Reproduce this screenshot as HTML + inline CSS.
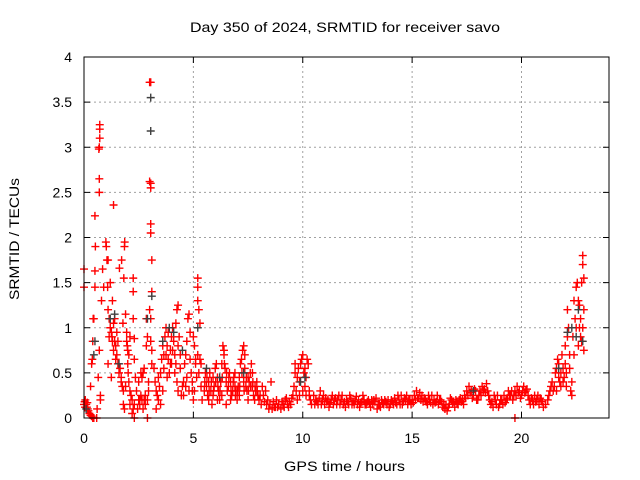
<!DOCTYPE html>
<html><head><meta charset="utf-8"><style>
body{margin:0;background:#fff;}
svg{display:block;font-family:"Liberation Sans",sans-serif;}
</style></head><body>
<svg id="chart" width="640" height="480" viewBox="0 0 640 480" xmlns="http://www.w3.org/2000/svg">
<rect width="640" height="480" fill="#fff"/>
<text x="190" y="32" font-size="14" textLength="310" lengthAdjust="spacingAndGlyphs" fill="#000">Day 350 of 2024, SRMTID for receiver savo</text>
<text x="284" y="471" font-size="14" textLength="121" lengthAdjust="spacingAndGlyphs" fill="#000">GPS time / hours</text>
<text transform="translate(19,300) rotate(-90)" font-size="14" textLength="122" lengthAdjust="spacingAndGlyphs" fill="#000">SRMTID / TECUs</text>
<g id="grid"></g>
<g id="ticks"></g>
<g id="red"></g>
<g id="gray"></g>
<rect x="84" y="57" width="525" height="361" fill="none" stroke="#000" stroke-width="1"/>
</svg>
<script>
const xTicks=[0,5,10,15,20];
const yTicks=[0,0.5,1,1.5,2,2.5,3,3.5,4];
const yTickLabels=["0","0.5","1","1.5","2","2.5","3","3.5","4"];
const redPoints=[
[0,0.15],[0.03,0.18],[0.06,0.2],[0.1,0.15],[0.13,0.12],[0.17,0.1],[0.2,0.08],[0.25,0.05],[0.3,0.03],[0.35,0.02],[0.4,0],[0.45,0],[0,1.65],[0,1.45],[0.05,0.12],[0.15,0.17],
[0.3,0.35],[0.35,0.6],[0.38,0.65],[0.4,0.85],[0.42,1.1],[0.45,1.1],[0.5,1.45],[0.5,1.63],[0.52,1.9],[0.5,2.24],[0.7,2.5],[0.7,2.65],[0.68,2.98],[0.7,3.0],[0.72,3.2],[0.72,3.25],[0.72,3.1],[0.75,0.2],[0.75,0.25],[0.65,0.45],[0.7,0.75],[0.58,0],[0.6,0.1],[0.8,1.3],[0.85,1.65],[0.9,1.45],
[1.0,1.95],[1.02,1.9],[1.05,1.75],[1.1,1.75],[1.08,1.45],[1.1,1.2],[1.15,1.1],[1.2,1.0],[1.25,0.95],[1.28,0.9],[1.3,0.85],[1.35,2.36],[1.35,1.05],[1.4,1.1],[1.45,0.8],[1.5,0.7],[1.55,0.6],[1.6,0.5],[1.65,0.55],[1.7,0.45],[1.75,0.35],[1.8,0.15],[1.85,0.1],[1.4,0.85],[1.2,1.5],[1.3,1.3],[1.1,0.6],[1.25,0.45],[1.15,0.9],[1.35,0.75],[1.5,0.95],[1.55,0.85],[1.45,0.65],
[1.62,1.66],[1.72,1.75],[1.85,1.9],[1.86,1.95],[1.82,1.55],[1.9,1.15],[1.78,1.05],[1.95,0.95],[2.0,0.6],[2.02,0.5],[2.05,0.4],[2.1,0.3],[2.15,0.25],[2.25,0.1],[2.3,0],[2.0,0.75],[2.05,0.7],[1.98,0.8],[2.1,0.9],[2.2,0.2],[2.3,0.15],[2.4,0.3],[2.35,0.45],[2.3,0.65],[2.25,1.1],[2.25,1.55],[2.25,1.4],[1.95,0.85],[2.3,0.88],[1.7,0.4],[1.8,0.3],[1.9,0.35],[2.1,0.15],[2.2,0.05],
[2.5,0.2],[2.55,0.15],[2.6,0.25],[2.65,0.2],[2.7,0.1],[2.75,0.2],[2.8,0.25],[2.7,0.5],[2.75,0.55],[2.65,0.45],[2.85,0.8],[2.85,1.1],[2.9,0.9],[2.95,0.3],[2.9,0],[2.5,0.4],[2.6,0.5],[2.45,0.1],[2.55,0.2],[2.8,0.15],[2.9,0.2],[2.95,0.4],
[3.0,3.72],[3.05,3.72],[3.0,2.62],[3.05,2.6],[3.05,2.55],[3.05,2.15],[3.05,2.05],[3.1,1.75],[3.1,1.4],[3.0,1.2],[3.05,0.85],[3.1,0.75],[3.1,0.6],[3.05,1.1],
[3.2,0.55],[3.25,0.4],[3.3,0.3],[3.35,0.25],[3.4,0.2],[3.45,0.35],[3.5,0.5],[3.55,0.65],[3.6,0.8],[3.65,0.7],[3.7,0.9],[3.75,1.0],[3.8,0.8],[3.85,0.65],[3.9,0.5],[3.95,0.75],[4.0,0.9],[4.05,1.0],[4.1,0.85],[4.15,0.7],[4.2,0.6],[4.25,0.4],[4.3,0.3],[4.2,1.05],[4.25,1.2],[4.3,1.25],[4.35,0.9],[4.4,0.55],[4.45,0.25],[3.4,0.45],[3.6,0.3],[3.8,0.45],[4.0,0.6],[3.3,0.1],[3.5,0.15],[3.65,0.55],[3.75,0.7],[3.85,0.95],[3.95,0.6],[4.05,0.75],[4.15,0.5],[4.3,0.8],[4.4,0.7],
[4.5,0.35],[4.55,0.4],[4.6,0.6],[4.65,0.7],[4.7,0.85],[4.75,1.1],[4.8,1.15],[4.85,0.95],[4.9,0.5],[4.95,0.3],[5.0,0.2],[5.05,0.8],[5.2,1.55],[5.2,1.45],[5.2,1.3],[5.25,1.2],[5.3,1.05],[5.1,0.6],[5.15,0.45],[5.25,0.5],[5.3,0.65],[5.35,0.35],[5.4,0.2],[4.7,0.45],[4.8,0.3],[5.0,0.9],[5.1,0.65],[5.2,0.7],[4.55,0.25],[4.65,0.35],[4.85,0.65],[4.95,0.4],[5.05,0.3],[5.35,0.6],
[5.5,0.3],[5.55,0.5],[5.6,0.35],[5.65,0.25],[5.7,0.4],[5.75,0.5],[5.8,0.3],[5.85,0.15],[5.9,0.45],[5.95,0.35],[6.0,0.55],[6.05,0.6],[6.1,0.45],[6.15,0.3],[6.2,0.2],[6.25,0.4],[6.3,0.6],[6.35,0.8],[6.4,0.75],[6.45,0.55],[6.5,0.4],[6.55,0.3],[6.6,0.35],[6.65,0.5],[6.7,0.4],[6.75,0.25],[6.8,0.3],[6.85,0.45],[6.9,0.35],[6.95,0.3],[7.0,0.2],[7.05,0.35],[7.1,0.45],[7.15,0.6],[7.2,0.65],[7.25,0.75],[7.3,0.8],[7.35,0.55],[7.4,0.35],[7.45,0.3],[7.5,0.2],[7.55,0.4],[7.6,0.5],[7.65,0.6],[7.7,0.35],[7.75,0.25],[7.8,0.2],[7.85,0.3],[7.9,0.4],[7.95,0.25],[5.7,0.2],[5.9,0.25],[6.1,0.2],[6.3,0.25],[6.5,0.15],[6.7,0.2],[6.9,0.5],[7.1,0.25],[7.3,0.4],[7.5,0.45],[7.7,0.5],[6.4,0.7],[7.35,0.7],
[5.52,0.4],[5.62,0.45],[5.72,0.3],[5.82,0.4],[5.92,0.3],[6.02,0.4],[6.12,0.35],[6.22,0.3],[6.32,0.45],[6.42,0.6],[6.52,0.5],[6.62,0.45],[6.72,0.3],[6.82,0.4],[6.92,0.25],[7.02,0.3],[7.12,0.35],[7.22,0.5],[7.32,0.3],[7.42,0.45],[7.52,0.3],[7.62,0.35],[7.72,0.4],[7.82,0.35],[7.92,0.3],
[8.0,0.2],[8.1,0.15],[8.2,0.25],[8.3,0.3],[8.4,0.2],[8.5,0.15],[8.6,0.1],[8.7,0.12],[8.8,0.2],[8.9,0.15],[9.0,0.1],[9.1,0.15],[9.2,0.2],[9.3,0.15],[9.4,0.18],[9.5,0.22],[8.55,0.4],[8.15,0.35],[8.45,0.1],[8.75,0.12],[9.05,0.18],[9.35,0.12],[8.05,0.25],[8.25,0.18],[8.35,0.15],[8.65,0.18],[8.85,0.12],[9.15,0.12],[9.25,0.22],[9.45,0.15],
[9.55,0.25],[9.6,0.35],[9.65,0.5],[9.65,0.6],[9.7,0.3],[9.75,0.45],[9.8,0.55],[9.85,0.4],[9.9,0.6],[9.95,0.65],[10.0,0.7],[10.05,0.5],[10.1,0.35],[10.15,0.25],[10.2,0.65],[10.25,0.6],[10.3,0.3],[10.35,0.2],[10.4,0.15],[9.75,0.2],[10.0,0.3],[10.1,0.55],[9.85,0.25],[10.15,0.45],[10.3,0.25],
[10.5,0.25],[10.6,0.2],[10.7,0.15],[10.8,0.3],[10.9,0.2],[11.0,0.15],[11.1,0.18],[11.2,0.12],[11.3,0.2],[11.4,0.15],[11.5,0.22],[11.6,0.2],[11.7,0.15],[11.8,0.25],[11.9,0.18],[12.0,0.2],[12.1,0.15],[12.2,0.22],[12.3,0.18],[12.4,0.2],[12.5,0.15],[12.6,0.12],[12.7,0.18],[12.8,0.2],[12.9,0.15],[13.0,0.2],[13.1,0.12],[13.2,0.15],[13.3,0.18],[13.4,0.1],[13.5,0.15],[13.6,0.2],[13.7,0.15],[13.8,0.18],[13.9,0.2],[14.0,0.15],[14.1,0.18],[14.2,0.22],[14.3,0.15],[14.4,0.2],[14.5,0.25],[14.6,0.18],[14.7,0.2],[14.8,0.15],[14.9,0.2],[15.0,0.2],[15.1,0.25],[15.2,0.3],[15.3,0.22],[15.4,0.2],[15.5,0.18],[15.6,0.2],[15.7,0.15],[15.8,0.2],[15.9,0.25],[16.0,0.2],[16.1,0.18],[16.2,0.15],[16.3,0.2],[16.4,0.12],[16.5,0.1],[16.6,0.08],[16.7,0.15],[16.8,0.2],[16.9,0.18],[17.0,0.2],[17.1,0.15],[17.2,0.22],[17.3,0.2],[17.4,0.25],[17.5,0.3],[17.6,0.35],[17.7,0.3],[17.8,0.25],[17.9,0.3],[18.0,0.2],[18.1,0.3],[18.2,0.35],[18.3,0.32],[18.4,0.38],[18.5,0.25],[18.6,0.15],[18.7,0.12],[18.8,0.2],[18.9,0.25],[19.0,0.15],[19.1,0.2],[19.2,0.25],[19.3,0.2],[19.4,0.3],[19.5,0.25],[19.6,0.2],[19.7,0.3],[19.8,0.35],[19.9,0.3],[20.0,0.25],[20.1,0.35],[20.2,0.3],[20.3,0.25],[20.4,0.15],[20.5,0.2],[20.6,0.25],[20.7,0.2],[20.8,0.15],[20.9,0.2],[21.0,0.12],
[10.55,0.15],[10.75,0.22],[10.95,0.25],[11.15,0.2],[11.35,0.25],[11.55,0.15],[11.75,0.2],[11.95,0.12],[12.15,0.25],[12.35,0.15],[12.55,0.2],[12.75,0.25],[12.95,0.18],[13.15,0.2],[13.35,0.22],[13.55,0.12],[13.75,0.2],[13.95,0.12],[14.15,0.15],[14.35,0.25],[14.55,0.15],[14.75,0.25],[14.95,0.15],[15.15,0.2],[15.35,0.28],[15.55,0.22],[15.75,0.25],[15.95,0.15],[16.15,0.25],[16.35,0.18],[16.55,0.15],[16.75,0.22],[16.95,0.12],[17.15,0.2],[17.35,0.15],[17.55,0.25],[17.75,0.22],[17.95,0.2],[18.15,0.25],[18.35,0.28],[18.55,0.2],[18.75,0.25],[18.95,0.12],[19.15,0.15],[19.35,0.22],[19.55,0.3],[19.75,0.25],[19.95,0.22],[20.15,0.28],[20.35,0.2],[20.55,0.15],[20.75,0.25],[20.95,0.18],[19.7,0],
[10.65,0.18],[10.85,0.15],[11.05,0.22],[11.25,0.17],[11.45,0.2],[11.65,0.25],[11.85,0.15],[12.05,0.18],[12.25,0.15],[12.45,0.24],[12.65,0.17],[12.85,0.15],[13.05,0.17],[13.25,0.2],[13.45,0.15],[13.65,0.17],[13.85,0.15],[14.05,0.2],[14.25,0.17],[14.45,0.15],[14.65,0.22],[14.85,0.2],[15.05,0.17],[15.25,0.22],[15.45,0.25],[15.65,0.18],[15.85,0.17],[16.05,0.17],[16.25,0.2],[16.45,0.15],[16.65,0.12],[16.85,0.17],[17.05,0.17],[17.25,0.18],[17.45,0.22],[17.65,0.28],[17.85,0.32],[18.05,0.25],[18.25,0.3],[18.45,0.3],[18.65,0.18],[18.85,0.15],[19.05,0.2],[19.25,0.17],[19.45,0.25],[19.65,0.25],[19.85,0.28],[20.05,0.3],[20.25,0.32],[20.45,0.22],[20.65,0.18],[20.85,0.22],
[21.1,0.15],[21.2,0.2],[21.3,0.3],[21.35,0.35],[21.4,0.4],[21.5,0.35],[21.55,0.5],[21.6,0.55],[21.65,0.65],[21.7,0.6],[21.75,0.4],[21.8,0.5],[21.85,0.7],[21.9,0.55],[21.95,0.45],[22.0,0.6],[22.05,0.5],[22.1,0.9],[22.1,1.2],[22.15,1.0],[22.2,0.7],[22.25,0.3],[22.3,0.25],[22.3,0.4],[22.35,0.9],[22.4,1.3],[22.45,1.1],[22.5,1.45],[22.55,1.5],[22.6,1.3],[22.6,0.8],[22.65,1.0],[22.7,0.9],[22.75,1.5],[22.8,1.8],[22.8,1.7],[22.85,1.55],[22.85,1.2],[22.85,0.75],[22.8,1.0],[22.75,0.85],[22.7,1.1],[22.2,0.55],[21.6,0.3],[21.8,0.35],[22.0,0.8],[21.25,0.25],[21.45,0.3],[21.7,0.45],[21.9,0.4],[22.05,0.35],[22.4,0.7],[22.5,1.0],[22.65,1.25]
];
const grayPoints=[[0.1,0.1],[0.5,0.85],[0.45,0.7],[1.2,1.1],[1.4,1.15],[1.6,0.6],[2.9,1.1],[3.05,3.55],[3.05,3.18],[3.1,1.35],[3.6,0.85],[3.9,1.0],[4.1,0.95],[4.5,0.75],[5.2,1.0],[5.6,0.55],[6.2,0.45],[7.3,0.5],[9.9,0.4],[10.1,0.45],[17.8,0.3],[21.7,0.55],[22.1,0.95],[22.3,1.0],[22.6,1.2],[22.8,0.85],[22.5,0.9]];

const X0=84,X1=609,Y0=418,Y1=57,XMAX=24,YMAX=4;
function sx(h){return X0+(X1-X0)*h/XMAX;}
function sy(v){return Y0-(Y0-Y1)*v/YMAX;}
const NS="http://www.w3.org/2000/svg";
function mk(tag,attrs,parent){const e=document.createElementNS(NS,tag);for(const k in attrs)e.setAttribute(k,attrs[k]);parent.appendChild(e);return e;}
const grid=document.getElementById('grid'),ticks=document.getElementById('ticks');
yTicks.forEach((t,i)=>{
  const y=sy(t);
  if(t>0&&t<YMAX){const g=mk('line',{x1:X0,x2:X1,y1:y,y2:y,stroke:'#a0a0a0','stroke-width':1,'stroke-dasharray':'2,3'},grid);
  
  }
  mk('line',{x1:X0,x2:X0+6,y1:y,y2:y,stroke:'#000'},ticks);
  mk('line',{x1:X1,x2:X1-6,y1:y,y2:y,stroke:'#000'},ticks);
  const tx=mk('text',{x:72,y:y+5,'font-size':14,'text-anchor':'end',fill:'#000'},ticks);
  tx.textContent=yTickLabels[i];
  
  
});
xTicks.forEach(t=>{
  const x=sx(t);
  if(t>0){const g=mk('line',{x1:x,x2:x,y1:Y0,y2:Y1,stroke:'#a0a0a0','stroke-width':1,'stroke-dasharray':'2,3'},grid);
  
  }
  mk('line',{x1:x,x2:x,y1:Y0,y2:Y0-6,stroke:'#000'},ticks);
  mk('line',{x1:x,x2:x,y1:Y1,y2:Y1+6,stroke:'#000'},ticks);
  const tx=mk('text',{x:x,y:443,'font-size':14,'text-anchor':'middle',fill:'#000'},ticks);
  tx.textContent=String(t);
  
  
});
function plot(points,gid,color,name){
  const g=document.getElementById(gid);
  points.forEach(p=>{
    const x=sx(p[0]),y=sy(p[1]);
    const e=mk('path',{d:`M${x-4} ${y}H${x+4}M${x} ${y-4}V${y+4}`,stroke:color,'stroke-width':1.4,fill:'none'},g);
    
    
  });
}
plot(redPoints,'red','#ff0000','red-point');
plot(grayPoints,'gray','#404040','gray-point');
</script>
</body></html>
